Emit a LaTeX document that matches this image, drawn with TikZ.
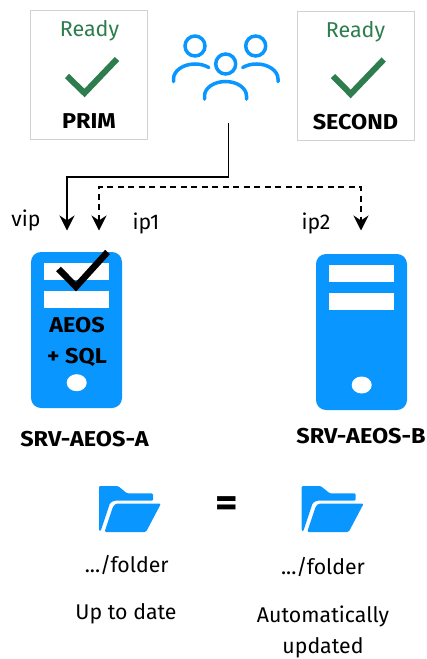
\documentclass[tikz,border=0pt]{standalone}
\usepackage{fontspec}
\setmainfont{Fira Sans}[BoldFeatures={FakeStretch=1.09}]
\usetikzlibrary{arrows.meta,shapes.geometric}
\definecolor{azure}{HTML}{0A96FF}
\definecolor{okgreen}{HTML}{2E7D4F}
\definecolor{boxgrey}{HTML}{D2D2D2}
\tikzset{
  x=1pt,y=-1pt,
  statusbox/.style={draw=boxgrey,line width=1pt,fill=white,minimum width=117pt,minimum height=129.5pt,inner sep=0pt},
  readytext/.style={text=okgreen,font=\fontsize{21.5}{24}\selectfont,inner sep=0pt},
  boldtext/.style={font=\fontsize{21.5}{24}\selectfont\bfseries,inner sep=0pt},
  plain/.style={font=\fontsize{21.3}{24}\selectfont,inner sep=0pt},
  greencheck/.style={draw=okgreen,line width=6pt,miter limit=10},
  blackcheck/.style={draw=black,line width=6.5pt,miter limit=10},
  person/.style={draw=azure,line width=3.5pt,line cap=round},
  serverbody/.style={fill=azure,rounded corners=10pt,minimum width=91pt,minimum height=156pt,inner sep=0pt},
  serverbar/.style={fill=white,minimum width=65pt,minimum height=17pt,inner sep=0pt},
  serverled/.style={ellipse,fill=white,minimum width=20pt,minimum height=17pt,inner sep=0pt},
  solidlink/.style={draw=black,line width=1.6pt,-{Stealth[length=15pt,width=15pt,inset=5pt]}},
  dashlink/.style={draw=black,line width=1.4pt,dash pattern=on 6pt off 4.5pt,{Stealth[length=15pt,width=15pt,inset=5pt]}-{Stealth[length=15pt,width=15pt,inset=5pt]}},
  folder/.pic={
    \fill[azure,rounded corners=1.2pt] (0,44.5) -- (0,0) -- (19,0) -- (28,7.3) -- (54,7.3) -- (54,14.7) -- (15,14.7) -- (11,17) -- (1.5,45.5) -- cycle;
    \fill[azure,rounded corners=1.4pt] (5.5,46) -- (14,20.5) -- (17,17.5) -- (62,17.5) -- (47,46) -- cycle;
  }
}
\begin{document}
\begin{tikzpicture}
\useasboundingbox (0,0) rectangle (426,659);
% status boxes
\node[statusbox] (prim) at (89,74.75) {};
\node[statusbox] (second) at (355.5,75.75) {};
\node[readytext] (readyA) at (89.5,30.5) {Ready};
\node[readytext] (readyB) at (355.5,31.5) {Ready};
\node[boldtext] (primL) at (89,121) {PRIM};
\node[boldtext] (secondL) at (355.5,122) {SECOND};
\draw[greencheck] (67,76) -- (84.5,93) -- (117,59);
\draw[greencheck] (333,76) -- (350.7,94) -- (383.7,59.5);
% users
\draw[person] (195,46) circle (10);
\draw[person] (255.7,46) circle (10);
\draw[person] (225.7,64) circle (10);
\draw[person] (173.5,81.5) -- (173.5,79) arc[start angle=180,end angle=310,x radius=21.5,y radius=15];
\draw[person] (278,81.5) -- (278,79) arc[start angle=0,end angle=-130,x radius=21.5,y radius=15];
\draw[person] (204.5,99) -- (204.5,96) arc[start angle=180,end angle=360,x radius=21,y radius=14.5] -- (246.5,99);
\coordinate (users) at (228.5,123);
% servers
\node[serverbody] (srvA) at (76.5,330) {};
\node[serverbar] (barA1) at (76.5,271.5) {};
\node[serverbar] (barA2) at (76.5,299.5) {};
\node[serverled] (ledA) at (76.7,382.7) {};
\draw[blackcheck] (58.5,269) -- (76,286.7) -- (107.5,252);
\node[boldtext] (aeos) at (77,325) {AEOS};
\node[boldtext] (sql) at (77,357.5) {+ SQL};
\node[serverbody] (srvB) at (361.5,332) {};
\node[serverbar] (barB1) at (361.5,273.5) {};
\node[serverbar] (barB2) at (361.5,301.5) {};
\node[serverled] (ledB) at (361.7,385) {};
\node[boldtext] (nameA) at (84.5,439.5) {SRV-AEOS-A};
\node[boldtext] (nameB) at (361,436.5) {SRV-AEOS-B};
% connectors
\coordinate (vipIn) at (67,230.5);
\coordinate (ip1In) at (99,230.5);
\coordinate (ip2In) at (361,230.5);
\draw[solidlink] (users) |- (67,177) -- (vipIn);
\draw[dashlink] (ip1In) |- (361,187) -- (ip2In);
\node[plain] (vip) at (26,220) {vip};
\node[plain] (ip1) at (146,223) {ip1};
\node[plain] (ip2) at (316,223) {ip2};
% folders
\pic at (99,486) {folder};
\pic at (301.7,486) {folder};
\node[font=\fontsize{40}{42}\selectfont\bfseries,inner sep=0pt] (equal) at (227,506.5) {=};
\node[plain] (pathA) at (126.7,565.5) {.../folder};
\node[plain] (pathB) at (323,567.5) {.../folder};
\node[plain] (upd) at (126,614) {Up to date};
\node[plain] (auto) at (323,616) {Automatically};
\node[plain] (updd) at (323,648) {updated};
\end{tikzpicture}
\end{document}
